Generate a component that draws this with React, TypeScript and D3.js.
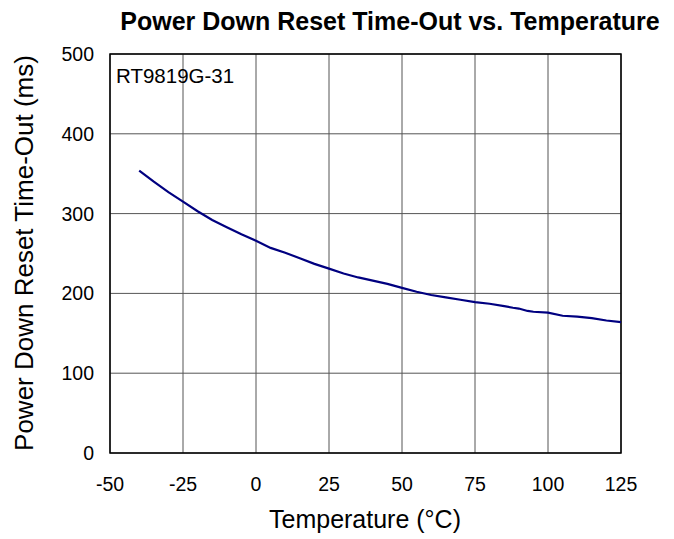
import React from 'react';
import * as d3 from 'd3';

const temps = [-40, -35, -30, -25, -20, -15, -10, -5, 0, 5, 10, 15, 20, 25, 30, 35, 40, 45, 50, 55, 60, 65, 70, 75, 80, 85, 88, 90, 93, 95, 100, 105, 110, 115, 120, 125];
const timeouts = [354, 340, 327, 315, 303, 292, 283, 274, 266, 257, 251, 244, 237, 231, 225, 220, 216, 212, 207, 202, 198, 195, 192, 189, 187, 184, 182, 181, 178, 177, 176, 172, 171, 169, 166, 164];
const xTicks = [-50, -25, 0, 25, 50, 75, 100, 125];
const yTicks = [0, 100, 200, 300, 400, 500];

const W = 674;
const H = 539;
const margin = { left: 110, right: 53, top: 54, bottom: 86 };

const App: React.FC = () => {
  const x = d3.scaleLinear().domain([-50, 125]).range([margin.left, W - margin.right]);
  const y = d3.scaleLinear().domain([0, 500]).range([H - margin.bottom, margin.top]);
  const pts: [number, number][] = temps.map((t, i) => [t, timeouts[i]]);
  const line = d3.line<[number, number]>().x(d => x(d[0])).y(d => y(d[1]));
  const font = 'Arial, "Liberation Sans", sans-serif';

  return (
    <svg width={W} height={H} style={{ position: 'absolute', left: 0, top: 0, background: '#fff' }} fontFamily={font}>
      <text x={390} y={30} textAnchor="middle" fontSize={25} fontWeight="bold">Power Down Reset Time-Out vs. Temperature</text>
      {xTicks.map(t => (
        <line key={'gx' + t} x1={x(t)} x2={x(t)} y1={y(500)} y2={y(0)} stroke="#555" strokeWidth={1} />
      ))}
      {yTicks.map(t => (
        <line key={'gy' + t} x1={x(-50)} x2={x(125)} y1={y(t)} y2={y(t)} stroke="#555" strokeWidth={1} />
      ))}
      <rect x={x(-50)} y={y(500)} width={x(125) - x(-50)} height={y(0) - y(500)} fill="none" stroke="#000" strokeWidth={1.5} />
      {xTicks.map(t => (
        <text key={'tx' + t} x={x(t)} y={491} textAnchor="middle" fontSize={19.5}>{t}</text>
      ))}
      {yTicks.map(t => (
        <text key={'ty' + t} x={94} y={y(t) + 7} textAnchor="end" fontSize={19.5}>{t}</text>
      ))}
      <path d={line(pts) || ''} fill="none" stroke="#000080" strokeWidth={2.2} />
      <text x={116} y={83} fontSize={20.5}>RT9819G-31</text>
      <text x={365} y={528} textAnchor="middle" fontSize={25}>Temperature (°C)</text>
      <text transform={`translate(33,${253}) rotate(-90)`} textAnchor="middle" fontSize={26}>Power Down Reset Time-Out (ms)</text>
    </svg>
  );
};

export default App;
